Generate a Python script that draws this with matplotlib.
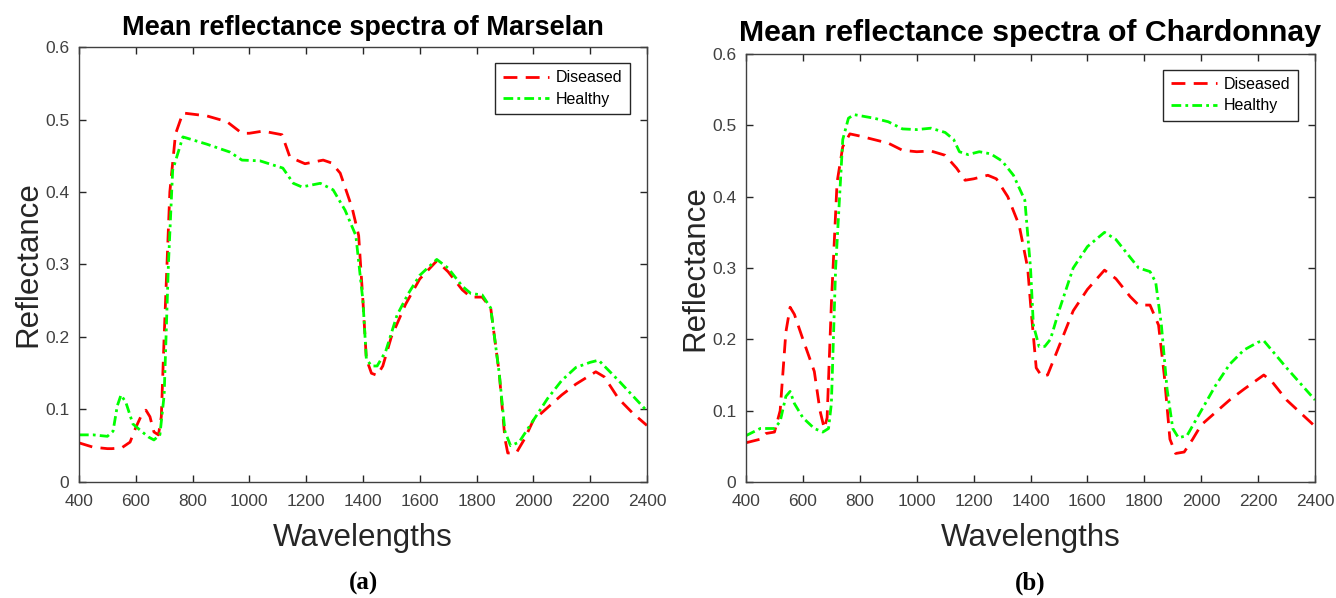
import matplotlib.pyplot as plt
import numpy as np

plt.rcParams['font.family'] = ['Liberation Sans', 'DejaVu Sans']

# Marselan mean spectra (wavelength nm, reflectance)
mar_dis_wl = [400, 450, 500, 516, 550, 580, 600, 620, 636, 650, 664, 680, 690, 700,
              720, 740, 766, 850, 921, 974, 1000, 1048, 1115, 1143, 1196, 1260, 1290,
              1320, 1362, 1385, 1400, 1412, 1430, 1450, 1470, 1500, 1550, 1600, 1660,
              1700, 1750, 1780, 1820, 1850, 1880, 1900, 1910, 1940, 1970, 2000, 2100,
              2150, 2220, 2250, 2300, 2350, 2400]
mar_dis = [0.054, 0.048, 0.046, 0.046, 0.047, 0.055, 0.075, 0.092, 0.099, 0.09, 0.069,
           0.065, 0.09, 0.2, 0.4, 0.48, 0.509, 0.505, 0.497, 0.481, 0.481, 0.484, 0.479,
           0.448, 0.439, 0.444, 0.44, 0.426, 0.378, 0.34, 0.25, 0.17, 0.15, 0.147, 0.16,
           0.2, 0.245, 0.28, 0.305, 0.29, 0.265, 0.255, 0.255, 0.24, 0.15, 0.06, 0.04,
           0.04, 0.06, 0.085, 0.12, 0.135, 0.152, 0.145, 0.115, 0.095, 0.078]

mar_hea_wl = [400, 450, 500, 520, 535, 548, 565, 590, 620, 645, 664, 685, 700, 715,
              730, 766, 850, 932, 974, 1037, 1118, 1155, 1185, 1250, 1295, 1337, 1375,
              1400, 1412, 1430, 1450, 1480, 1520, 1560, 1600, 1660, 1700, 1750, 1780,
              1820, 1850, 1880, 1900, 1920, 1950, 2000, 2050, 2100, 2150, 2200, 2230,
              2300, 2400]
mar_hea = [0.065, 0.065, 0.063, 0.07, 0.105, 0.12, 0.11, 0.08, 0.07, 0.062, 0.058,
           0.065, 0.12, 0.3, 0.43, 0.476, 0.466, 0.455, 0.444, 0.443, 0.433, 0.412,
           0.407, 0.412, 0.403, 0.375, 0.34, 0.25, 0.17, 0.16, 0.16, 0.18, 0.23, 0.26,
           0.285, 0.307, 0.295, 0.27, 0.26, 0.258, 0.24, 0.15, 0.07, 0.05, 0.055, 0.085,
           0.115, 0.14, 0.158, 0.165, 0.168, 0.14, 0.098]

# Chardonnay mean spectra
cha_dis_wl = [400, 450, 470, 500, 520, 540, 555, 570, 600, 640, 660, 675, 685, 700,
              720, 740, 765, 800, 900, 950, 1000, 1050, 1100, 1140, 1170, 1200, 1250,
              1280, 1320, 1360, 1390, 1400, 1420, 1440, 1460, 1500, 1550, 1600, 1660,
              1700, 1750, 1780, 1820, 1850, 1870, 1890, 1910, 1940, 1970, 2000, 2100,
              2150, 2220, 2250, 2300, 2400]
cha_dis = [0.055, 0.06, 0.068, 0.07, 0.1, 0.21, 0.245, 0.235, 0.2, 0.155, 0.1, 0.075,
           0.09, 0.25, 0.42, 0.47, 0.488, 0.485, 0.475, 0.465, 0.463, 0.464, 0.458,
           0.44, 0.423, 0.425, 0.43, 0.425, 0.4, 0.36, 0.3, 0.25, 0.16, 0.148, 0.15,
           0.19, 0.24, 0.27, 0.297, 0.285, 0.26, 0.248, 0.248, 0.22, 0.15, 0.06, 0.04,
           0.042, 0.06, 0.08, 0.115, 0.13, 0.15, 0.14, 0.115, 0.078]

cha_hea_wl = [400, 450, 500, 520, 540, 555, 570, 600, 640, 670, 690, 700, 715, 740,
              760, 780, 850, 900, 950, 1000, 1050, 1100, 1130, 1150, 1180, 1220, 1260,
              1300, 1340, 1380, 1400, 1410, 1430, 1450, 1470, 1500, 1550, 1600, 1660,
              1700, 1750, 1780, 1820, 1840, 1860, 1880, 1900, 1920, 1950, 2000, 2050,
              2100, 2150, 2200, 2220, 2300, 2400]
cha_hea = [0.065, 0.075, 0.075, 0.085, 0.12, 0.127, 0.11, 0.09, 0.075, 0.07, 0.075,
           0.11, 0.3, 0.48, 0.51, 0.515, 0.51, 0.505, 0.495, 0.494, 0.496, 0.49, 0.48,
           0.463, 0.459, 0.463, 0.46, 0.45, 0.43, 0.395, 0.3, 0.22, 0.19, 0.19, 0.2,
           0.24, 0.3, 0.33, 0.35, 0.34, 0.315, 0.3, 0.295, 0.28, 0.22, 0.13, 0.075,
           0.062, 0.065, 0.1, 0.135, 0.165, 0.185, 0.196, 0.198, 0.16, 0.115]

xticks = np.arange(400, 2401, 200)
yticks = [0, 0.1, 0.2, 0.3, 0.4, 0.5, 0.6]
ytick_labels = ['0', '0.1', '0.2', '0.3', '0.4', '0.5', '0.6']

fig = plt.figure(figsize=(13.36, 5.98), dpi=100)
ax1 = fig.add_axes([0.0591, 0.194, 0.4251, 0.7274])
ax2 = fig.add_axes([0.5584, 0.194, 0.4259, 0.7157])

gray = '#262626'
panels = [
    (ax1, mar_dis_wl, mar_dis, mar_hea_wl, mar_hea,
     'Mean reflectance spectra of Marselan', 19.5, '(a)', 363),
    (ax2, cha_dis_wl, cha_dis, cha_hea_wl, cha_hea,
     'Mean reflectance spectra of Chardonnay', 21.8, '(b)', 1030),
]

for ax, dwl, dv, hwl, hv, title, tsize, cap, cx in panels:
    ax.plot(dwl, dv, color='#ff0000', linestyle=(0, (5, 3)), linewidth=2,
            label='Diseased')
    ax.plot(hwl, hv, color='#00ff00', linestyle=(0, (3.5, 1.5, 1, 1.5)),
            linewidth=2, label='Healthy')
    ax.set_xlim(400, 2400)
    ax.set_ylim(0, 0.6)
    ax.set_xticks(xticks)
    ax.set_yticks(yticks)
    ax.set_yticklabels(ytick_labels)
    ax.tick_params(direction='in', top=True, right=True, length=5, width=1,
                   colors=gray, labelsize=12.5, labelcolor='#404040')
    ax.tick_params(axis='x', pad=9)
    ax.tick_params(axis='y', pad=7)
    for s in ax.spines.values():
        s.set_color('#404040')
        s.set_linewidth(1)
    ax.set_xlabel('Wavelengths', fontsize=22.5, color=gray, labelpad=10)
    ax.set_ylabel('Reflectance', fontsize=22.5, color=gray, labelpad=1)
    ax.set_title(title, fontsize=tsize, fontweight='bold', pad=9)
    leg = ax.legend(loc='upper right', bbox_to_anchor=(0.970, 0.963),
                    borderaxespad=0, fontsize=11.5, handlelength=2.9,
                    fancybox=False, framealpha=1, edgecolor='#262626',
                    borderpad=0.45, labelspacing=0.4, handletextpad=0.45)
    leg.get_frame().set_linewidth(1)
    fig.text(cx / 1336, 1 - 583 / 598, cap, ha='center', va='center',
             fontsize=18, fontweight='bold', family='Liberation Serif')

fig.savefig('out.png', dpi=100)
